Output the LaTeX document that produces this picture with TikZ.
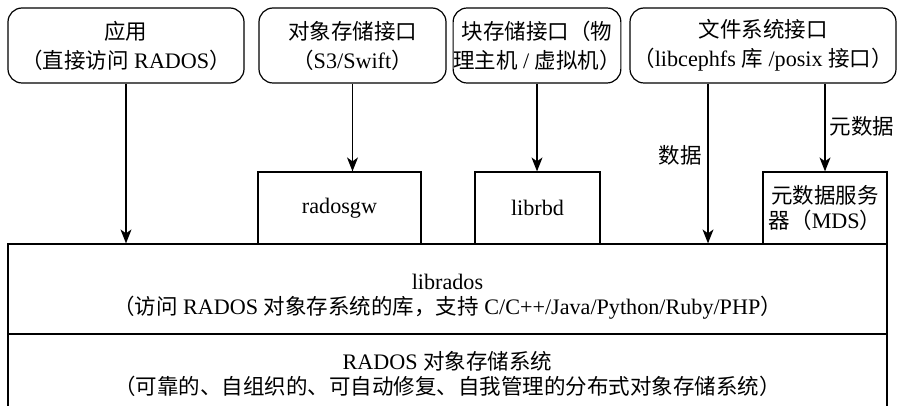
\documentclass[tikz,border=0pt]{standalone}
\usepackage{fontspec}
\setmainfont{Liberation Serif}[Scale=1.03]
\newfontfamily\cjk{Noto Sans CJK SC}
\newcommand{\zh}[1]{{\cjk #1}}
\usetikzlibrary{arrows.meta}

\begin{document}
\begin{tikzpicture}[x=1pt,y=-1pt,
  txt/.style={font=\fontsize{21.5}{29}\selectfont, align=center, text=black},
  txtb/.style={font=\fontsize{21.5}{25}\selectfont, align=center, text=black},
  rbox/.style={txt, draw, rounded corners=14pt, line width=1.2pt, inner sep=0pt, minimum height=75pt},
  sbox/.style={txtb, draw, line width=1.2pt, inner sep=0pt, minimum height=72pt},
  layer/.style={txtb, draw, line width=1.2pt, inner sep=0pt, minimum width=879pt},
  flow/.style={line width=1.2pt, -{Stealth[length=14pt,width=11pt,inset=4pt]}},
]
\useasboundingbox (0,0) rectangle (898,406);
\clip (0,0) rectangle (898,406);

% client interfaces
\node[rbox, minimum width=236pt] (app) at (126,45.5)
  {\zh{应用}\\\zh{（直接访问} RADOS\zh{）}};
\node[rbox, minimum width=187pt] (s3) at (352.5,45.5)
  {\zh{对象存储接口}\\\zh{（}S3/Swift\zh{）}};
\node[rbox, minimum width=162pt] (blk) at (537,45.5)
  {\zh{块存储接口（物}\\\zh{理主机} / \zh{虚拟机）}};
\node[rbox, minimum width=266pt] (fs) at (763,45.5)
  {\zh{文件系统接口}\\\zh{（}libcephfs \zh{库} /posix \zh{接口）}};

% gateway libraries
\node[sbox, minimum width=163pt] (gw) at (339.5,208) {radosgw};
\node[sbox, minimum width=125pt] (rbd) at (537.5,208) {librbd};
\node[sbox, minimum width=124pt] (mds) at (825,208)
  {\zh{元数据服务}\\\zh{器（}MDS\zh{）}};

% base layers
\node[layer, minimum height=90pt] (librados) at (447.5,289) {};
\node[txtb] (libtxt) at (447.5,296.5)
  {librados\\\zh{（访问} RADOS \zh{对象存系统的库，支持} C/C++/Java/Python/Ruby/PHP\zh{）}};
\node[layer, minimum height=79pt] (rados) at (447.5,373.5)
  {RADOS \zh{对象存储系统}\\\zh{（可靠的、自组织的、可自动修复、自我管理的分布式对象存储系统）}};

% connectors
\draw[flow] (app.south) -- (app.south |- librados.north);
\draw[flow] (s3.south) -- (s3.south |- gw.north);
\draw[flow] (blk.south) -- (blk.south |- rbd.north);
\coordinate (dtop) at ([xshift=-55pt]fs.south);
\draw[flow] (dtop) -- (dtop |- librados.north);
\draw[flow] (fs.south -| mds.north) -- (mds.north);

\node[txt] (dlabel) at (680,155) {\zh{数据}};
\node[txt] (mlabel) at (862,126) {\zh{元数据}};
\end{tikzpicture}
\end{document}
